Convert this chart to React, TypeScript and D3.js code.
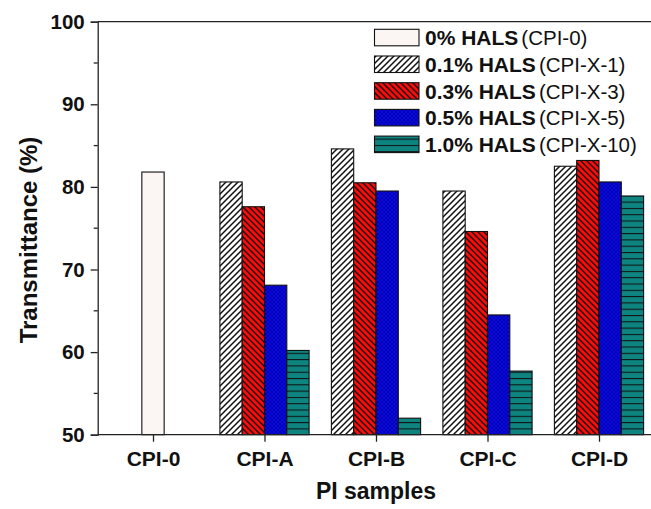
import React, { useEffect, useRef } from 'react';
import * as d3 from 'd3';

const categories = ['CPI-0', 'CPI-A', 'CPI-B', 'CPI-C', 'CPI-D'];
const seriesNames = ['0% HALS', '0.1% HALS', '0.3% HALS', '0.5% HALS', '1.0% HALS'];
const seriesCodes = ['(CPI-0)', '(CPI-X-1)', '(CPI-X-3)', '(CPI-X-5)', '(CPI-X-10)'];
// one value per category, null where the sample does not exist
const halsZero = [81.8, null, null, null, null];
const hals01 = [null, 80.6, 84.6, 79.5, 82.5];
const hals03 = [null, 77.6, 80.5, 74.6, 83.2];
const hals05 = [null, 68.1, 79.5, 64.5, 80.6];
const hals10 = [null, 60.2, 52.0, 57.7, 78.9];
const yTicks = [50, 60, 70, 80, 90, 100];
const yMinorTicks = [55, 65, 75, 85, 95];

const FONT = '"Liberation Sans", Arial, sans-serif';

function App() {
  const ref = useRef<SVGSVGElement | null>(null);

  useEffect(() => {
    const width = 651;
    const height = 509;
    const left = 97.7;
    const top = 21.7;
    const bottom = 434.7;

    const svg = d3.select(ref.current);
    svg.selectAll('*').remove();
    svg.attr('width', width).attr('height', height);

    const allSeries = [halsZero, hals01, hals03, hals05, hals10];
    const fills = ['#fbf6f3', 'url(#hatchUp)', 'url(#hatchRed)', 'url(#crossBlue)', 'url(#lineTeal)'];

    // patterns
    const defs = svg.append('defs');
    const up = defs.append('pattern').attr('id', 'hatchUp').attr('patternUnits', 'userSpaceOnUse')
      .attr('width', 6).attr('height', 6);
    up.append('rect').attr('width', 6).attr('height', 6).attr('fill', '#fff');
    up.append('path').attr('d', 'M-1.5,1.5 l3,-3 M0,6 l6,-6 M4.5,7.5 l3,-3')
      .attr('stroke', '#111').attr('stroke-width', 1.5);

    const red = defs.append('pattern').attr('id', 'hatchRed').attr('patternUnits', 'userSpaceOnUse')
      .attr('width', 6).attr('height', 6);
    red.append('rect').attr('width', 6).attr('height', 6).attr('fill', '#ff0a0a');
    red.append('path').attr('d', 'M-1.5,4.5 l3,3 M0,0 l6,6 M4.5,-1.5 l3,3')
      .attr('stroke', '#111').attr('stroke-width', 1.4);

    const blue = defs.append('pattern').attr('id', 'crossBlue').attr('patternUnits', 'userSpaceOnUse')
      .attr('width', 4).attr('height', 4);
    blue.append('rect').attr('width', 4).attr('height', 4).attr('fill', '#0808ea');
    blue.append('path').attr('d', 'M0,0 l4,4 M-1,3 l2,2 M3,-1 l2,2 M0,4 l4,-4 M-1,1 l2,-2 M3,5 l2,-2')
      .attr('stroke', '#00007a').attr('stroke-width', 0.6);

    const teal = defs.append('pattern').attr('id', 'lineTeal').attr('patternUnits', 'userSpaceOnUse')
      .attr('width', 6).attr('height', 6.3);
    teal.append('rect').attr('width', 6).attr('height', 6.3).attr('fill', '#0e8480');
    teal.append('path').attr('d', 'M0,0.5 H6').attr('stroke', '#111').attr('stroke-width', 1.1);

    const xScale = d3.scaleLinear().domain([0, 4]).range([153, 599]);
    const yScale = d3.scaleLinear().domain([50, 100]).range([bottom, top]);
    const barW = 22.3;

    // bars, centred in each category over the series that exist there
    const bars: { x: number; v: number; s: number }[] = [];
    categories.forEach((c, i) => {
      const present = allSeries.map((s, k) => ({ v: s[i], s: k })).filter((d) => d.v !== null);
      present.forEach((d, j) => {
        bars.push({ x: xScale(i) + (j - (present.length - 1) / 2) * barW, v: d.v as number, s: d.s });
      });
    });

    svg.append('g').selectAll('rect').data(bars).enter().append('rect')
      .attr('x', (d) => d.x - barW / 2)
      .attr('y', (d) => yScale(d.v))
      .attr('width', barW)
      .attr('height', (d) => yScale(50) - yScale(d.v))
      .attr('fill', (d) => fills[d.s])
      .attr('stroke', '#111')
      .attr('stroke-width', 1.1);

    // axes
    const axisColor = '#222';
    const yAxis = d3.axisLeft(yScale).tickValues(yTicks).tickSize(7).tickPadding(6)
      .tickFormat((d) => String(d));
    const yg = svg.append('g').attr('transform', `translate(${left},0)`).call(yAxis);
    yg.select('.domain').attr('stroke', axisColor).attr('stroke-width', 1.3);
    yg.selectAll('line').attr('stroke', axisColor).attr('stroke-width', 1.3);
    yg.selectAll('text').attr('font-family', FONT).attr('font-size', 20.5).attr('font-weight', 'bold')
      .attr('fill', '#111');

    svg.append('g').selectAll('line').data(yMinorTicks).enter().append('line')
      .attr('x1', left - 4).attr('x2', left)
      .attr('y1', (d) => yScale(d)).attr('y2', (d) => yScale(d))
      .attr('stroke', axisColor).attr('stroke-width', 1.3);

    const xAxis = d3.axisBottom(xScale).tickValues(d3.range(categories.length)).tickSize(7).tickPadding(9)
      .tickFormat((d) => categories[d as number]);
    const xg = svg.append('g').attr('transform', `translate(0,${bottom})`).call(xAxis);
    xg.select('.domain').remove();
    xg.selectAll('line').attr('stroke', axisColor).attr('stroke-width', 1.3);
    xg.selectAll('text').attr('font-family', FONT).attr('font-size', 21).attr('font-weight', 'bold')
      .attr('fill', '#111');

    svg.append('line').attr('x1', left).attr('x2', width).attr('y1', bottom).attr('y2', bottom)
      .attr('stroke', axisColor).attr('stroke-width', 1.3);
    svg.append('line').attr('x1', left).attr('x2', width).attr('y1', top).attr('y2', top)
      .attr('stroke', axisColor).attr('stroke-width', 1.3);

    // axis titles
    svg.append('text').attr('x', 376).attr('y', 499).attr('text-anchor', 'middle')
      .attr('font-family', FONT).attr('font-size', 23).attr('font-weight', 'bold').attr('fill', '#111')
      .text('PI samples');
    svg.append('text').attr('transform', 'translate(37,240) rotate(-90)')
      .attr('text-anchor', 'middle')
      .attr('font-family', FONT).attr('font-size', 24).attr('font-weight', 'bold').attr('fill', '#111')
      .text('Transmittance (%)');

    // legend
    const lg = svg.append('g');
    seriesNames.forEach((name, i) => {
      const y0 = 29.3 + i * 26.7;
      lg.append('rect').attr('x', 374.5).attr('y', y0).attr('width', 44.5).attr('height', 16.5)
        .attr('fill', fills[i]).attr('stroke', '#111').attr('stroke-width', 1.1);
      const t = lg.append('text').attr('x', 425).attr('y', y0 + 16)
        .attr('font-family', FONT).attr('fill', '#111');
      t.append('tspan').attr('font-size', 21).attr('font-weight', 'bold').text(name);
      t.append('tspan').attr('dx', 3).attr('font-size', 20.5).text(seriesCodes[i]);
    });
  }, []);

  return <svg ref={ref} style={{ display: 'block', position: 'absolute', left: 0, top: 0 }} />;
}

export default App;
